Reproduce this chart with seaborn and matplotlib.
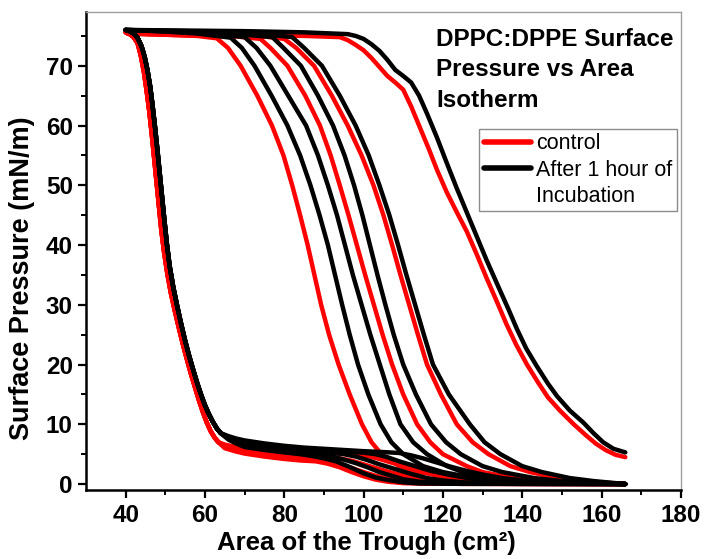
"""
DPPC:DPPE surface pressure vs area isotherm (control vs 1 h incubation)
"""
import numpy as np
import pandas as pd

import matplotlib
matplotlib.use("Agg")
import matplotlib.pyplot as plt
from matplotlib.lines import Line2D
import seaborn as sns


# ---- data: area (cm^2), surface pressure (mN/m) ----
# compression curves, traced from 166 cm^2 down to 40 cm^2
ctrl_comp1_x = [166, 163.5, 161, 158.5, 156, 153, 149.5, 146.5, 144, 141.2, 138.5, 136, 133.5, 131, 128.5, 126,
                123.5, 121, 118.5, 116.5, 114, 112, 110, 108, 106, 104, 102, 100, 98, 96, 94, 85, 70, 55, 40.5]
ctrl_comp1_y = [4.5, 4.9, 5.7, 6.8, 8.2, 10, 12.3, 14.5, 17, 20, 23.3, 26.8, 30.7, 34.5, 38.5, 42.3,
                45.5, 48.8, 52.6, 56, 60, 63.2, 66, 67.2, 68.3, 69.8, 71.3, 72.6, 73.5, 74.3, 74.8, 75.0, 75.2, 75.3, 75.5]
ctrl_comp2_x = [166, 155, 149, 142, 137, 131.5, 127.5, 123.5, 119.5, 116, 113.7, 111.5, 109.3, 107.2, 105, 102.5,
                99.5, 96, 92, 87.5, 83, 80, 75, 60, 40.5]
ctrl_comp2_y = [0, 0.5, 1, 2, 3, 5, 7, 10, 15, 20, 25, 30, 35, 40, 45, 50,
                55, 60, 65, 70, 73, 74.5, 74.9, 75.1, 75.4]
ctrl_comp3_x = [166, 146, 138, 130, 126, 120, 116.8, 113.5, 110, 107.2, 104.8, 102.6, 100.4, 98.3, 96.2, 94,
                91.7, 89, 85.3, 80.8, 76.5, 74, 68, 55, 40.5]
ctrl_comp3_y = [0, 0.5, 1, 2, 3, 5, 7, 10, 15, 20, 25, 30, 35, 40, 45, 50,
                55, 60, 65, 70, 73, 74.5, 74.9, 75.1, 75.4]
ctrl_comp4_x = [166, 136, 124, 114, 109, 104.5, 102, 99.6, 96.5, 93.7, 91.3, 89.3, 87.6, 85.9, 84, 82,
                79.8, 76.9, 73.2, 69, 65.8, 63, 58, 50, 40.5]
ctrl_comp4_y = [0, 0.5, 1, 2, 3, 5, 7, 10, 15, 20, 25, 30, 35, 40, 45, 50,
                55, 60, 65, 70, 73, 74.6, 75.0, 75.2, 75.4]

inc_comp1_x = [166, 163, 160.4, 158, 155.4, 152, 148.8, 146.5, 143.7, 141, 138.7, 136.5, 134, 131, 128.5, 126,
               123.5, 121, 118.5, 116, 114, 112, 110, 108, 106, 104, 102, 100, 98, 96, 85, 70, 55, 40]
inc_comp1_y = [5.3, 5.9, 7.0, 8.5, 10.3, 12.3, 14.7, 16.8, 19.7, 22.7, 25.9, 29.3, 33, 37.5, 41.5, 45.5,
               49.5, 53.7, 58, 62, 65, 67.2, 68.3, 69.3, 71, 72.5, 73.6, 74.5, 75.0, 75.3, 75.6, 75.8, 75.9, 76]
inc_comp2_x = [166, 158, 152, 145, 140, 134.5, 130.5, 126.8, 121.5, 117.5, 115.2, 113, 110.8, 108.7, 106.5, 104,
               101.3, 98, 94, 89.5, 85, 82, 70, 55, 40]
inc_comp2_y = [0, 0.5, 1, 2, 3, 5, 7, 10, 15, 20, 25, 30, 35, 40, 45, 50,
               55, 60, 65, 70, 73, 74.8, 75.6, 75.8, 76]
inc_comp3_x = [166, 150, 143, 135, 130, 124.5, 120.8, 117, 113.2, 110, 107.6, 105.5, 103.5, 101.6, 99.7, 97.6,
               95.2, 92.3, 88.5, 84.2, 79.8, 77, 65, 50, 40]
inc_comp3_y = [0, 0.5, 1, 2, 3, 5, 7, 10, 15, 20, 25, 30, 35, 40, 45, 50,
               55, 60, 65, 70, 73, 74.8, 75.5, 75.8, 76]
inc_comp4_x = [166, 142, 133, 125, 121, 116, 112.5, 109.3, 106.5, 104.1, 101.7, 99.5, 97.3, 95.3, 93.3, 91,
               88.5, 85.5, 81, 76.5, 73, 70, 60, 48, 40]
inc_comp4_y = [0, 0.5, 1, 2, 3, 5, 7, 10, 15, 20, 25, 30, 35, 40, 45, 50,
               55, 60, 65, 70, 73, 74.8, 75.5, 75.8, 76]
inc_comp5_x = [166, 138, 128, 120, 115, 110, 107, 104.3, 101.2, 98.6, 96.5, 94.6, 92.8, 91, 88.9, 86.6,
               84, 80.8, 76.8, 72.5, 69.3, 66.5, 58, 48, 40]
inc_comp5_y = [0, 0.5, 1, 2, 3, 5, 7, 10, 15, 20, 25, 30, 35, 40, 45, 50,
               55, 60, 65, 70, 73, 74.7, 75.4, 75.8, 76]

# expansion curves: the steep collapse (all cycles overlap there) and the tails
ctrl_steep_x = [40, 41, 42, 43, 43.8, 44.6, 45.3, 46, 46.6, 47.2, 47.8, 48.4, 49, 49.7, 50.5, 51.4,
                52.4, 53.4, 54.4, 55.4, 56.4, 57.4, 58.4, 59.4, 60.4, 61.4, 62.4, 63.4]
ctrl_steep_y = [75.6, 75.3, 74.8, 73.8, 71.8, 69, 65.8, 62.2, 58.5, 54.5, 50.5, 46.5, 42.5, 38.8, 35.3, 32,
                29, 26.2, 23.5, 21, 18.6, 16.4, 14.2, 12.2, 10.4, 8.9, 7.8, 7.0]
inc_steep_x = [40, 41, 42, 43, 44, 44.8, 45.5, 46.2, 46.8, 47.4, 48, 48.6, 49.2, 49.8, 50.4, 51.1,
               52, 53, 54, 55, 56, 57, 58, 59, 60, 61, 62, 63, 64]
inc_steep_y = [76, 75.8, 75.4, 74.7, 73.3, 71.5, 69.3, 66.5, 63.3, 59.8, 56, 52, 48, 44, 40.2, 36.5,
               33, 29.8, 26.8, 24, 21.5, 19.2, 17, 15, 13.2, 11.7, 10.4, 9.3, 8.5]

ctrl_exp1_x = [65, 67.5, 70, 75, 80, 85, 90, 95, 98, 101, 104, 107, 110, 114, 118, 123, 128, 134, 142, 166]
ctrl_exp1_y = [6.6, 6.25, 6.0, 5.65, 5.4, 5.3, 5.2, 5.1, 5.0, 4.7, 4.2, 3.6, 3.0, 2.2, 1.5, 0.9, 0.5, 0.25, 0.08, 0]
ctrl_exp2_x = [65, 67.5, 70, 75, 80, 85, 88, 91, 94, 97, 100, 103, 106, 109, 112, 116, 120, 128, 140, 166]
ctrl_exp2_y = [6.4, 6.0, 5.7, 5.3, 5.0, 4.75, 4.6, 4.5, 4.3, 3.9, 3.3, 2.7, 2.1, 1.6, 1.2, 0.7, 0.4, 0.12, 0.03, 0]
ctrl_exp3_x = [65, 67.5, 70, 75, 80, 84, 88, 91, 94, 97, 100, 103, 106, 109, 112, 116, 125, 166]
ctrl_exp3_y = [6.2, 5.75, 5.4, 4.95, 4.6, 4.3, 4.1, 3.8, 3.3, 2.7, 2.0, 1.4, 0.9, 0.55, 0.3, 0.1, 0.03, 0]
ctrl_exp4_x = [65, 67.5, 70, 75, 80, 84, 88, 91, 94, 97, 100, 103, 106, 110, 116, 166]
ctrl_exp4_y = [6.0, 5.5, 5.1, 4.6, 4.2, 3.95, 3.8, 3.4, 2.8, 2.0, 1.3, 0.75, 0.4, 0.15, 0.05, 0]

inc_exp1_x = [66, 68, 70, 75, 80, 85, 90, 95, 100, 105, 109, 112, 115, 118, 122, 126, 130, 135, 140, 146, 155, 166]
inc_exp1_y = [8.0, 7.6, 7.3, 6.8, 6.4, 6.1, 5.9, 5.7, 5.5, 5.35, 5.2, 4.8, 4.3, 3.7, 2.9, 2.2, 1.6, 1.0, 0.6, 0.3, 0.1, 0]
inc_exp2_x = [66, 68, 70, 75, 80, 85, 90, 95, 100, 103, 106, 109, 113, 117, 122, 127, 132, 138, 148, 166]
inc_exp2_y = [7.85, 7.35, 7.0, 6.5, 6.1, 5.85, 5.65, 5.45, 5.25, 5.0, 4.5, 3.8, 3.0, 2.2, 1.5, 0.9, 0.5, 0.25, 0.08, 0]
inc_exp3_x = [66, 68, 70, 75, 80, 85, 90, 95, 98, 101, 104, 108, 112, 116, 120, 125, 132, 145, 166]
inc_exp3_y = [7.7, 7.15, 6.8, 6.3, 5.9, 5.6, 5.35, 5.0, 4.6, 4.0, 3.3, 2.5, 1.7, 1.0, 0.6, 0.3, 0.1, 0.03, 0]
inc_exp4_x = [66, 68, 70, 75, 80, 85, 88, 92, 95, 98, 101, 104, 107, 110, 114, 118, 125, 140, 166]
inc_exp4_y = [7.55, 6.95, 6.5, 6.0, 5.6, 5.25, 5.0, 4.6, 4.1, 3.5, 2.8, 2.0, 1.4, 0.8, 0.4, 0.2, 0.08, 0.02, 0]
inc_exp5_x = [66, 68, 70, 75, 80, 84, 87, 90, 93, 96, 100, 103, 106, 110, 114, 125, 166]
inc_exp5_y = [7.4, 6.75, 6.2, 5.7, 5.3, 5.0, 4.7, 4.3, 3.8, 3.0, 1.8, 1.1, 0.7, 0.3, 0.1, 0.03, 0]

label_ctrl = "control"
label_inc = "After 1 hour of\nIncubation"
title_text = "DPPC:DPPE Surface\nPressure vs Area\nIsotherm"


def build_frame():
    rows = []

    def add(group, name, xs, ys):
        for i, (x, y) in enumerate(zip(xs, ys)):
            rows.append((group, name, i, x, y))

    add(label_ctrl, "c_comp1", ctrl_comp1_x, ctrl_comp1_y)
    add(label_ctrl, "c_comp2", ctrl_comp2_x, ctrl_comp2_y)
    add(label_ctrl, "c_comp3", ctrl_comp3_x, ctrl_comp3_y)
    add(label_ctrl, "c_comp4", ctrl_comp4_x, ctrl_comp4_y)
    for k, (tx, ty) in enumerate([(ctrl_exp1_x, ctrl_exp1_y), (ctrl_exp2_x, ctrl_exp2_y),
                                  (ctrl_exp3_x, ctrl_exp3_y), (ctrl_exp4_x, ctrl_exp4_y)]):
        add(label_ctrl, f"c_exp{k+1}", ctrl_steep_x + tx, ctrl_steep_y + ty)

    add(label_inc, "i_comp1", inc_comp1_x, inc_comp1_y)
    add(label_inc, "i_comp2", inc_comp2_x, inc_comp2_y)
    add(label_inc, "i_comp3", inc_comp3_x, inc_comp3_y)
    add(label_inc, "i_comp4", inc_comp4_x, inc_comp4_y)
    add(label_inc, "i_comp5", inc_comp5_x, inc_comp5_y)
    for k, (tx, ty) in enumerate([(inc_exp1_x, inc_exp1_y), (inc_exp2_x, inc_exp2_y),
                                  (inc_exp3_x, inc_exp3_y), (inc_exp4_x, inc_exp4_y),
                                  (inc_exp5_x, inc_exp5_y)]):
        add(label_inc, f"i_exp{k+1}", inc_steep_x + tx, inc_steep_y + ty)

    return pd.DataFrame(rows, columns=["group", "curve", "order", "area", "pressure"])


if __name__ == "__main__":

    sns.set_style("ticks")
    plt.rcParams["font.family"] = ["Liberation Sans", "DejaVu Sans"]
    for key in ["text.color", "axes.labelcolor", "xtick.color", "ytick.color"]:
        plt.rcParams[key] = "black"

    df = build_frame()

    fig = plt.figure(figsize=(7.07, 5.59), dpi=100)
    ax = fig.add_axes([0.1216, 0.1234, 0.8414, 0.8551])

    sns.lineplot(data=df, x="area", y="pressure", hue="group", units="curve",
                 estimator=None, sort=False, hue_order=[label_ctrl, label_inc],
                 palette={label_ctrl: "#ff0000", label_inc: "#000000"},
                 lw=3.2, solid_joinstyle="round", solid_capstyle="round", ax=ax)

    ax.set_xlim(30, 180)
    ax.set_ylim(-1, 79)
    ax.set_xticks(np.arange(40, 181, 20))
    ax.set_xticks(np.arange(50, 180, 20), minor=True)
    ax.set_yticks(np.arange(0, 71, 10))
    ax.set_yticks(np.arange(5, 76, 10), minor=True)

    for s in ["left", "bottom"]:
        ax.spines[s].set_linewidth(1.8)
        ax.spines[s].set_color("black")
    for s in ["top", "right"]:
        ax.spines[s].set_linewidth(1.0)
        ax.spines[s].set_color("#a0a0a0")

    ax.tick_params(which="major", length=5.5, width=1.6, labelsize=17.5)
    ax.tick_params(which="minor", length=3.5, width=1.4)
    ax.tick_params(axis="x", which="major", pad=4.5)
    ax.tick_params(axis="y", which="major", pad=4)
    for t in ax.get_xticklabels() + ax.get_yticklabels():
        t.set_fontweight("bold")

    ax.set_xlabel("Area of the Trough (cm\u00b2)", fontsize=18.5,
                  fontweight="bold")
    ax.set_ylabel("Surface Pressure (mN/m)", fontsize=19.5, fontweight="bold")
    ax.xaxis.set_label_coords(0.471, -0.085)
    ax.yaxis.set_label_coords(-0.085, 0.443)

    ax.text(118.3, 76.3, title_text, fontsize=17.5, fontweight="bold",
            va="top", ha="left", linespacing=1.4)

    handles, labels = ax.get_legend_handles_labels()
    inc_lines = label_inc.split("\n")
    leg_handles = [handles[0], handles[1], Line2D([], [], color="none")]
    leg_labels = [labels[0], inc_lines[0], inc_lines[1]]
    leg = ax.legend(leg_handles, leg_labels, loc="upper right",
                    bbox_to_anchor=(0.9933, 0.7552), borderaxespad=0,
                    fontsize=15.5, frameon=True, fancybox=False,
                    edgecolor="#707070", handlelength=2.2, handletextpad=0.25,
                    borderpad=0.2, labelspacing=0.24)
    leg.get_frame().set_linewidth(1.0)
    for line in leg.get_lines():
        line.set_linewidth(4.0)

    plt.savefig("out.png", dpi=100)
    plt.close()
